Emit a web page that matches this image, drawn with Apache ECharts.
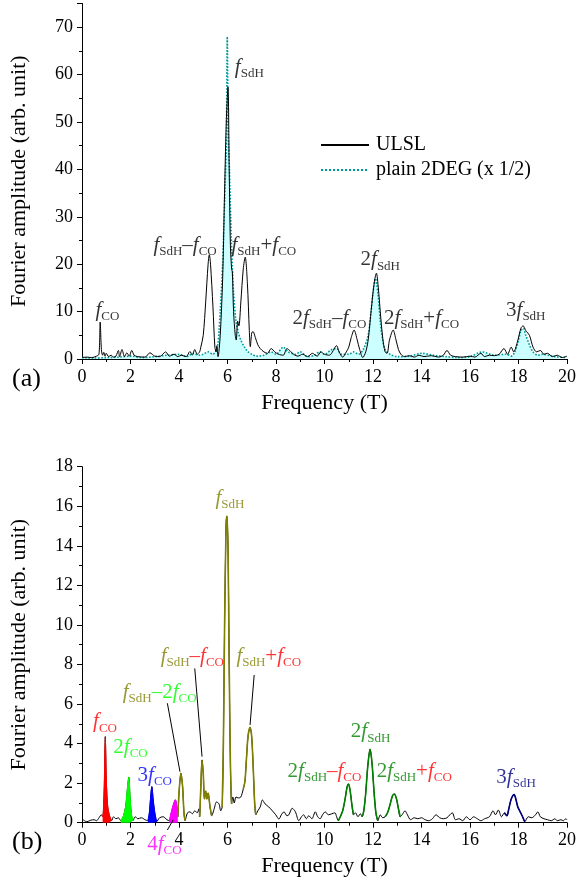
<!DOCTYPE html>
<html>
<head>
<meta charset="utf-8">
<script src="https://cdn.jsdelivr.net/npm/echarts@6/dist/echarts.min.js"></script>
<style>
  html, body { margin: 0; padding: 0; background: #fff; }
  #chart { width: 579px; height: 884px; }
</style>
</head>
<body>
<div id="chart"></div>
<script>
// (a) ULSL spectrum
var freqA = [0, 0.2, 0.4, 0.6, 0.7, 0.75, 0.8, 0.85, 0.9, 0.95, 1.0, 1.1, 1.2, 1.3, 1.4, 1.5, 1.55, 1.65, 1.75, 1.85, 1.95, 2.05, 2.15, 2.3, 2.6, 2.8, 3.0, 3.2, 3.45, 3.6, 3.8, 3.95, 4.1, 4.3, 4.45, 4.55, 4.65, 4.75, 4.85, 4.9, 5.0, 5.1, 5.2, 5.25, 5.3, 5.4, 5.48, 5.53, 5.56, 5.61, 5.7, 5.8, 5.87, 5.95, 6.02, 6.07, 6.12, 6.17, 6.2, 6.25, 6.32, 6.36, 6.42, 6.47, 6.55, 6.65, 6.73, 6.82, 6.9, 6.94, 7.0, 7.05, 7.15, 7.25, 7.35, 7.5, 7.65, 7.8, 7.95, 8.1, 8.3, 8.45, 8.6, 8.75, 8.9, 9.1, 9.3, 9.5, 9.7, 9.85, 10.0, 10.2, 10.5, 10.6, 10.75, 10.9, 11.0, 11.1, 11.22, 11.35, 11.45, 11.58, 11.7, 11.8, 11.9, 12.0, 12.08, 12.14, 12.22, 12.3, 12.4, 12.5, 12.58, 12.68, 12.83, 12.95, 13.05, 13.15, 13.3, 13.5, 13.7, 13.9, 14.1, 14.4, 14.7, 14.9, 15.05, 15.2, 15.4, 15.7, 16.0, 16.2, 16.45, 16.6, 16.8, 17.0, 17.2, 17.4, 17.55, 17.7, 17.8, 17.95, 18.1, 18.19, 18.3, 18.45, 18.6, 18.75, 18.9, 19.05, 19.2, 19.4, 19.6, 19.8, 20];
var ampULSL = [0.3, 0.4, 0.3, 0.6, 1.0, 7.8, 2.0, 0.8, 1.4, 0.6, 1.2, 0.5, 0.8, 0.4, 0.6, 1.8, 0.5, 2.0, 0.5, 1.3, 0.6, 1.8, 0.8, 0.5, 0.4, 1.3, 0.6, 0.5, 1.5, 0.6, 1.0, 0.5, 0.8, 0.5, 1.6, 0.8, 2.0, 1.0, 1.5, 2.5, 5, 12, 20, 22, 20, 11, 2.5, 1.5, 2.8, 0.5, 5, 17, 33, 50, 57.4, 40, 24, 19, 18.4, 10, 5, 4, 8, 7, 12, 19, 21.5, 16, 6, 2.6, 5.5, 5.8, 4.5, 3.0, 2.2, 1.5, 1.2, 2.2, 1.5, 1.0, 0.8, 2.2, 1.6, 0.9, 0.6, 1.0, 0.5, 1.2, 0.6, 1.5, 1.0, 0.8, 2.8, 1.5, 0.4, 1.5, 2.5, 4.5, 6.1, 4, 2, 0.3, 1.5, 4, 9, 14, 17, 18.1, 15, 10, 4.5, 1.5, 1.2, 4, 6.1, 4, 2, 1.0, 0.5, 0.7, 0.4, 0.8, 0.5, 0.7, 0.4, 0.8, 1.8, 0.8, 0.5, 0.4, 0.6, 0.4, 1.2, 0.5, 0.8, 0.7, 1.0, 2.2, 1.0, 2.5, 1.5, 3.5, 6.5, 7.0, 6.0, 5.0, 2.5, 1.5, 1.8, 1.0, 1.2, 0.5, 0.8, 0.3, 0.6];

// (a) plain 2DEG spectrum (x 1/2)
var freqA2 = [0, 0.5, 1.0, 1.5, 2.0, 2.5, 3.0, 3.5, 4.0, 4.3, 4.6, 4.8, 5.0, 5.2, 5.4, 5.5, 5.6, 5.65, 5.7, 5.8, 5.85, 5.9, 5.95, 5.99, 6.03, 6.08, 6.13, 6.18, 6.25, 6.35, 6.45, 6.55, 6.7, 6.85, 7.0, 7.2, 7.5, 7.8, 8.0, 8.3, 8.5, 8.8, 9.0, 9.3, 9.6, 9.8, 10.0, 10.3, 10.5, 10.7, 11.0, 11.2, 11.4, 11.6, 11.8, 11.9, 12.0, 12.1, 12.2, 12.3, 12.4, 12.5, 12.7, 13.0, 13.5, 14.0, 14.5, 15.0, 15.5, 16.0, 16.5, 17.0, 17.5, 17.7, 17.85, 18.0, 18.1, 18.2, 18.3, 18.45, 18.6, 18.8, 19.0, 19.5, 20];
var amp2DEG = [0.3, 0.2, 0.3, 0.4, 0.6, 0.3, 0.5, 0.8, 1.0, 0.5, 1.2, 0.8, 1.0, 1.5, 1.0, 1.5, 3, 6, 10, 20, 28, 37, 45, 68, 48, 40, 30, 22, 14, 8, 5.5, 4, 2.5, 1.5, 1.0, 0.6, 0.8, 1.5, 1.0, 2.5, 1.5, 1.0, 1.5, 0.5, 0.8, 1.5, 1.0, 2.0, 2.2, 1.0, 1.0, 1.5, 1.0, 2.0, 5.0, 9, 14, 17, 14, 8, 4, 2, 1.0, 0.5, 0.6, 1.2, 0.8, 0.5, 0.3, 0.5, 1.5, 0.8, 1.0, 0.6, 1.5, 4, 6, 6.5, 5, 3, 1.5, 0.8, 1.0, 0.5, 0.3];

// (b) spectrum
var freqB = [0, 0.1, 0.2, 0.35, 0.5, 0.6, 0.7, 0.8, 0.85, 0.88, 0.92, 0.96, 1.0, 1.05, 1.12, 1.22, 1.3, 1.4, 1.5, 1.6, 1.7, 1.8, 1.88, 1.93, 1.98, 2.03, 2.1, 2.2, 2.3, 2.45, 2.6, 2.72, 2.78, 2.84, 2.88, 2.93, 3.0, 3.08, 3.2, 3.35, 3.5, 3.6, 3.68, 3.78, 3.85, 3.9, 3.95, 4.0, 4.08, 4.15, 4.2, 4.25, 4.35, 4.45, 4.55, 4.65, 4.75, 4.82, 4.85, 4.9, 4.95, 5.0, 5.05, 5.1, 5.15, 5.2, 5.28, 5.35, 5.45, 5.55, 5.65, 5.72, 5.78, 5.83, 5.88, 5.94, 5.97, 6.02, 6.07, 6.12, 6.17, 6.22, 6.28, 6.35, 6.45, 6.55, 6.65, 6.72, 6.78, 6.85, 6.93, 7.0, 7.07, 7.12, 7.17, 7.25, 7.35, 7.44, 7.55, 7.7, 7.85, 7.99, 8.12, 8.22, 8.33, 8.45, 8.53, 8.67, 8.8, 8.94, 9.05, 9.14, 9.25, 9.35, 9.48, 9.62, 9.72, 9.82, 9.92, 10.03, 10.16, 10.3, 10.43, 10.5, 10.57, 10.65, 10.75, 10.85, 10.93, 10.99, 11.06, 11.13, 11.2, 11.28, 11.38, 11.48, 11.55, 11.62, 11.7, 11.78, 11.88, 11.96, 12.04, 12.12, 12.2, 12.3, 12.4, 12.5, 12.6, 12.7, 12.8, 12.88, 12.97, 13.05, 13.12, 13.2, 13.32, 13.42, 13.55, 13.7, 13.85, 14.0, 14.15, 14.3, 14.45, 14.6, 14.75, 14.9, 15.05, 15.27, 15.4, 15.55, 15.7, 15.85, 16.0, 16.15, 16.3, 16.45, 16.6, 16.8, 16.95, 17.05, 17.17, 17.3, 17.42, 17.52, 17.6, 17.7, 17.82, 17.9, 17.97, 18.05, 18.15, 18.26, 18.4, 18.55, 18.7, 18.8, 18.9, 19.05, 19.2, 19.35, 19.5, 19.6, 19.75, 19.85, 19.95, 20];
var ampB = [0.2, 0.1, 0.05, 0.12, 0.15, 0.1, 0.25, 0.4, 0.3, 0.5, 1.8, 4.35, 2.2, 0.9, 0.4, 0.1, 0.3, 0.2, 0.25, 0.1, 0.3, 0.8, 1.8, 2.3, 1.3, 0.5, 0.1, 0.3, 0.2, 0.25, 0.15, 0.1, 0.5, 1.4, 1.82, 1.2, 0.5, 0.05, 0.25, 0.3, 0.15, 0.1, 0.5, 0.95, 1.15, 0.9, 0.3, 1.5, 2.5, 1.8, 0.6, 0.1, 0.5, 0.55, 0.45, 0.6, 0.5, 0.7, 0.3, 1.8, 3.17, 2.5, 1.2, 1.6, 1.2, 1.5, 0.8, 0.35, 0.7, 1.05, 0.95, 0.6, 0.8, 4, 10, 15, 15.5, 14, 8, 3, 0.95, 1.3, 1.0, 1.3, 1.25, 1.3, 1.7, 2.1, 3.2, 4.4, 4.82, 4.3, 2.5, 1.0, 0.4, 0.6, 0.8, 1.15, 0.95, 0.8, 0.6, 0.4, 0.18, 0.4, 0.55, 0.35, 0.4, 0.73, 0.55, 0.1, 0.3, 0.4, 0.2, 0.35, 0.2, 0.55, 0.3, 0.2, 0.4, 0.55, 0.4, 0.45, 0.5, 0.3, 0.1, 0.3, 0.6, 1.2, 1.8, 1.96, 1.6, 0.9, 0.4, 0.5, 0.3, 0.45, 0.3, 0.6, 1.5, 2.8, 3.71, 3.0, 1.6, 0.5, 0.1, 0.4, 0.25, 0.3, 0.5, 0.9, 1.35, 1.45, 1.2, 0.7, 0.3, 0.4, 0.6, 0.4, 0.15, 0.25, 0.2, 0.25, 0.15, 0.1, 0.2, 0.4, 0.25, 0.2, 0.25, 0.5, 0.15, 0.2, 0.1, 0.3, 0.15, 0.3, 0.2, 0.1, 0.2, 0.3, 0.6, 0.4, 0.64, 0.3, 0.5, 0.35, 0.7, 1.2, 1.42, 1.15, 0.8, 0.6, 0.35, 0.05, 0.3, 0.25, 0.4, 0.55, 0.3, 0.2, 0.15, 0.1, 0.2, 0.1, 0.15, 0.1, 0.2, 0.15];

// frequency bands of (b) that are coloured
var coBands = [[0.85, 1.22], [1.6, 2.1], [2.72, 3.08], [3.6, 3.95]];      // f_CO, 2f_CO, 3f_CO, 4f_CO (filled)
var sdhBands = [[3.95, 4.25], [4.85, 5.35], [5.78, 6.17], [6.65, 7.17]];  // f_SdH group
var sdh2Bands = [[10.57, 11.2], [11.55, 12.2], [12.5, 13.12]];           // 2f_SdH group
var sdh3Bands = [[17.42, 18.26]];                                        // 3f_SdH

// leader lines in (b), [freq, amp] pairs
var leaders = [
  [[3.52, 6.04], [4.04, 2.58]],
  [[4.65, 7.8], [4.95, 3.34]],
  [[7.1, 7.47], [6.93, 4.94]],
  [[3.52, -0.37], [3.76, 0.14]]
];

var FONT = 'Liberation Serif';
var colors = {k: '#000000', o: '#808000', r: '#ff0000', g: '#00ff00', b: '#0000ff', m: '#ff00ff', d: '#008000', n: '#000080'};
var coColors = ['#ff0000', '#00ff00', '#0000ff', '#ff00ff'];

// rich text styles: i = italic f, n = normal, s = subscript
var rich = {};
Object.keys(colors).forEach(function (c) {
  rich['i' + c] = {fontFamily: FONT, fontStyle: 'italic', fontSize: 21, lineHeight: 26, color: colors[c]};
  rich['n' + c] = {fontFamily: FONT, fontSize: 21, lineHeight: 26, color: colors[c]};
  rich['s' + c] = {fontFamily: FONT, fontSize: 13, lineHeight: 10, verticalAlign: 'bottom', color: colors[c]};
});

// parts: ['f', sub, color] or ['n', text, color]
function lab(parts) {
  return parts.map(function (p) {
    if (p[0] === 'f') return '{i' + p[2] + '|f}{s' + p[2] + '|' + p[1] + '}';
    return '{n' + p[2] + '|' + p[1] + '}';
  }).join('');
}

var annotA = [
  [1.05, 10.3, lab([['f', 'CO', 'k']])],
  [6.9, 61.5, lab([['f', 'SdH', 'k']])],
  [4.25, 24, lab([['f', 'SdH', 'k'], ['n', '–', 'k'], ['f', 'CO', 'k']])],
  [7.5, 24, lab([['f', 'SdH', 'k'], ['n', '+', 'k'], ['f', 'CO', 'k']])],
  [10.2, 8.6, lab([['n', '2', 'k'], ['f', 'SdH', 'k'], ['n', '–', 'k'], ['f', 'CO', 'k']])],
  [12.3, 20.9, lab([['n', '2', 'k'], ['f', 'SdH', 'k']])],
  [14.0, 8.6, lab([['n', '2', 'k'], ['f', 'SdH', 'k'], ['n', '+', 'k'], ['f', 'CO', 'k']])],
  [18.3, 10.3, lab([['n', '3', 'k'], ['f', 'SdH', 'k']])]
];

var annotB = [
  [0.95, 5.1, lab([['f', 'CO', 'r']])],
  [2.0, 3.8, lab([['n', '2', 'g'], ['f', 'CO', 'g']])],
  [3.0, 2.4, lab([['n', '3', 'b'], ['f', 'CO', 'b']])],
  [3.4, -1.1, lab([['n', '4', 'm'], ['f', 'CO', 'm']])],
  [6.1, 16.4, lab([['f', 'SdH', 'o']])],
  [4.55, 8.4, lab([['f', 'SdH', 'o'], ['n', '–', 'r'], ['f', 'CO', 'r']])],
  [7.7, 8.4, lab([['f', 'SdH', 'o'], ['n', '+', 'r'], ['f', 'CO', 'r']])],
  [3.2, 6.6, lab([['f', 'SdH', 'o'], ['n', '–2', 'g'], ['f', 'CO', 'g']])],
  [10.0, 2.6, lab([['n', '2', 'd'], ['f', 'SdH', 'd'], ['n', '–', 'r'], ['f', 'CO', 'r']])],
  [11.9, 4.6, lab([['n', '2', 'd'], ['f', 'SdH', 'd']])],
  [13.7, 2.6, lab([['n', '2', 'd'], ['f', 'SdH', 'd'], ['n', '+', 'r'], ['f', 'CO', 'r']])],
  [17.9, 2.3, lab([['n', '3', 'n'], ['f', 'SdH', 'n']])]
];

function pairs(xs, ys) {
  return xs.map(function (x, i) { return [x, ys[i]]; });
}
function band(range) {
  return pairs(freqB, ampB).filter(function (p) { return p[0] >= range[0] && p[0] <= range[1]; });
}

var myChart = echarts.init(document.getElementById('chart'), null, {renderer: 'canvas'});

function xAxisOf(idx) {
  return {
    type: 'value', gridIndex: idx, min: 0, max: 20, interval: 2,
    name: 'Frequency (T)', nameLocation: 'middle', nameGap: 33,
    nameTextStyle: {fontFamily: FONT, fontSize: 22, color: '#000'},
    axisLine: {onZero: false, lineStyle: {color: '#000', width: 1}},
    axisTick: {length: 5, lineStyle: {color: '#000'}},
    minorTick: {show: true, splitNumber: 2, length: 3, lineStyle: {color: '#000'}},
    splitLine: {show: false},
    axisLabel: {fontFamily: FONT, fontSize: 18, color: '#000', margin: 9}
  };
}
function yAxisOf(idx, max, interval) {
  return {
    type: 'value', gridIndex: idx, min: 0, max: max, interval: interval,
    name: 'Fourier amplitude (arb. unit)', nameLocation: 'middle', nameGap: 52,
    nameTextStyle: {fontFamily: FONT, fontSize: 22, color: '#000'},
    axisLine: {show: true, lineStyle: {color: '#000', width: 1}},
    axisTick: {show: true, length: 5, lineStyle: {color: '#000'}},
    minorTick: {show: true, splitNumber: 2, length: 3, lineStyle: {color: '#000'}},
    splitLine: {show: false},
    axisLabel: {fontFamily: FONT, fontSize: 18, color: '#000', margin: 9, showMaxLabel: max % interval === 0}
  };
}

var series = [];

// (a)
series.push({
  name: 'plain 2DEG (x 1/2)', type: 'line', xAxisIndex: 0, yAxisIndex: 0,
  data: pairs(freqA2, amp2DEG), symbol: 'none', smooth: 0.3,
  lineStyle: {color: '#009999', width: 1.6, type: 'dotted'},
  itemStyle: {color: '#009999'},
  areaStyle: {color: '#ccffff', opacity: 1},
  z: 2
});
series.push({
  name: 'ULSL', type: 'line', xAxisIndex: 0, yAxisIndex: 0,
  data: pairs(freqA, ampULSL), symbol: 'none', smooth: 0.3,
  lineStyle: {color: '#000', width: 1},
  itemStyle: {color: '#000'},
  z: 3
});

// (b)
series.push({
  type: 'line', xAxisIndex: 1, yAxisIndex: 1,
  data: pairs(freqB, ampB), symbol: 'none', smooth: 0.3,
  lineStyle: {color: '#000', width: 1}, z: 3
});
coBands.forEach(function (r, i) {
  series.push({
    type: 'line', xAxisIndex: 1, yAxisIndex: 1, data: band(r), symbol: 'none', smooth: 0.3,
    lineStyle: {color: coColors[i], width: 1.2},
    areaStyle: {color: coColors[i], opacity: 1}, z: 4
  });
});
[[sdhBands, colors.o], [sdh2Bands, colors.d], [sdh3Bands, colors.n]].forEach(function (g) {
  g[0].forEach(function (r) {
    series.push({
      type: 'line', xAxisIndex: 1, yAxisIndex: 1, data: band(r), symbol: 'none', smooth: 0.3,
      lineStyle: {color: g[1], width: 1.6}, z: 4
    });
  });
});
leaders.forEach(function (l) {
  series.push({
    type: 'line', xAxisIndex: 1, yAxisIndex: 1, data: l, symbol: 'none', clip: false,
    lineStyle: {color: '#000', width: 1}, z: 5, silent: true
  });
});

function annotSeries(list, idx) {
  return {
    type: 'scatter', xAxisIndex: idx, yAxisIndex: idx, symbolSize: 1, clip: false, silent: true,
    itemStyle: {color: 'rgba(0,0,0,0)'},
    label: {show: true, position: 'inside', rich: rich, textBorderWidth: 0},
    data: list.map(function (a) { return {value: [a[0], a[1]], label: {formatter: a[2]}}; }),
    z: 10
  };
}
series.push(annotSeries(annotA, 0));
series.push(annotSeries(annotB, 1));

myChart.setOption({
  animation: false,
  backgroundColor: '#fff',
  grid: [
    {left: 81, right: 8, top: 3.5, bottom: 525},
    {left: 81, right: 8, top: 466.7, bottom: 61.3}
  ],
  xAxis: [xAxisOf(0), xAxisOf(1)],
  yAxis: [yAxisOf(0, 75, 10), yAxisOf(1, 18, 2)],
  legend: {
    data: ['ULSL', 'plain 2DEG (x 1/2)'],
    orient: 'vertical', left: 315, top: 130,
    itemWidth: 48, itemHeight: 14, itemGap: 5,
    itemStyle: {opacity: 0},
    textStyle: {fontFamily: FONT, fontSize: 20, color: '#000', padding: [0, 0, 0, 2]}
  },
  graphic: [
    {type: 'text', left: 12, top: 366, style: {text: '(a)', font: '26px "Liberation Serif"', fill: '#000'}},
    {type: 'text', left: 12, top: 829, style: {text: '(b)', font: '26px "Liberation Serif"', fill: '#000'}}
  ],
  series: series
});
</script>
</body>
</html>
